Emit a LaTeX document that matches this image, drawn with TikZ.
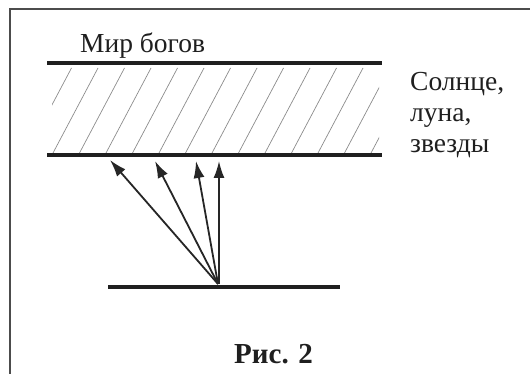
\documentclass[tikz,border=0pt]{standalone}
\usepackage{fontspec}
\setmainfont{Liberation Serif}
\usetikzlibrary{arrows.meta}
\begin{document}
\begin{tikzpicture}[x=1pt,y=-1pt,
  level/.style={line width=3.5pt,draw=black!88},
  ray/.style={line width=1.8pt,draw=black!85,-{Latex[length=17pt,width=11pt]}},
  hatch/.style={line width=0.7pt,draw=black!45},
  frame/.style={line width=1.2pt,draw=black!70},
  lbl/.style={anchor=base west,inner sep=0pt,font=\fontsize{27.5}{31}\selectfont,text=black!88}]
\useasboundingbox[fill=white] (0,0) rectangle (530,374);
% frame
\draw[frame] (10,374) -- (10,9) -- (530,9);
% hatching
\begin{scope}
\clip (52,68) rectangle (379,153);
\foreach \i in {-2,...,13}{
  \draw[hatch] ({53+26.5*\i},153) -- ({98+26.5*\i},68);
}
\end{scope}
% levels
\coordinate (t1) at (47,63);  \coordinate (t2) at (382,63);
\coordinate (m1) at (47,155); \coordinate (m2) at (382,155);
\coordinate (b1) at (108,287); \coordinate (b2) at (340,287);
\draw[level] (t1) -- (t2);
\draw[level] (m1) -- (m2);
\draw[level] (b1) -- (b2);
% rays
\coordinate (o) at (218,284);
\coordinate (a1) at (110,160);
\coordinate (a2) at (155,161);
\coordinate (a3) at (196,161);
\coordinate (a4) at (219,161);
\draw[ray] (o) -- (a1);
\draw[ray] (o) -- (a2);
\draw[ray] (o) -- (a3);
\draw[ray] ([xshift=1pt]o) -- (a4);
% labels
\node[lbl] (gods) at (80,53) {Мир богов};
\node[lbl] (sun) at (410,91) {Солнце,};
\node[lbl] (moon) at (410,122) {луна,};
\node[lbl] (stars) at (410,153) {звезды};
\node[lbl,font=\fontsize{29}{31}\selectfont\bfseries] (cap) at (234,363) {Рис. 2};
\end{tikzpicture}
\end{document}
